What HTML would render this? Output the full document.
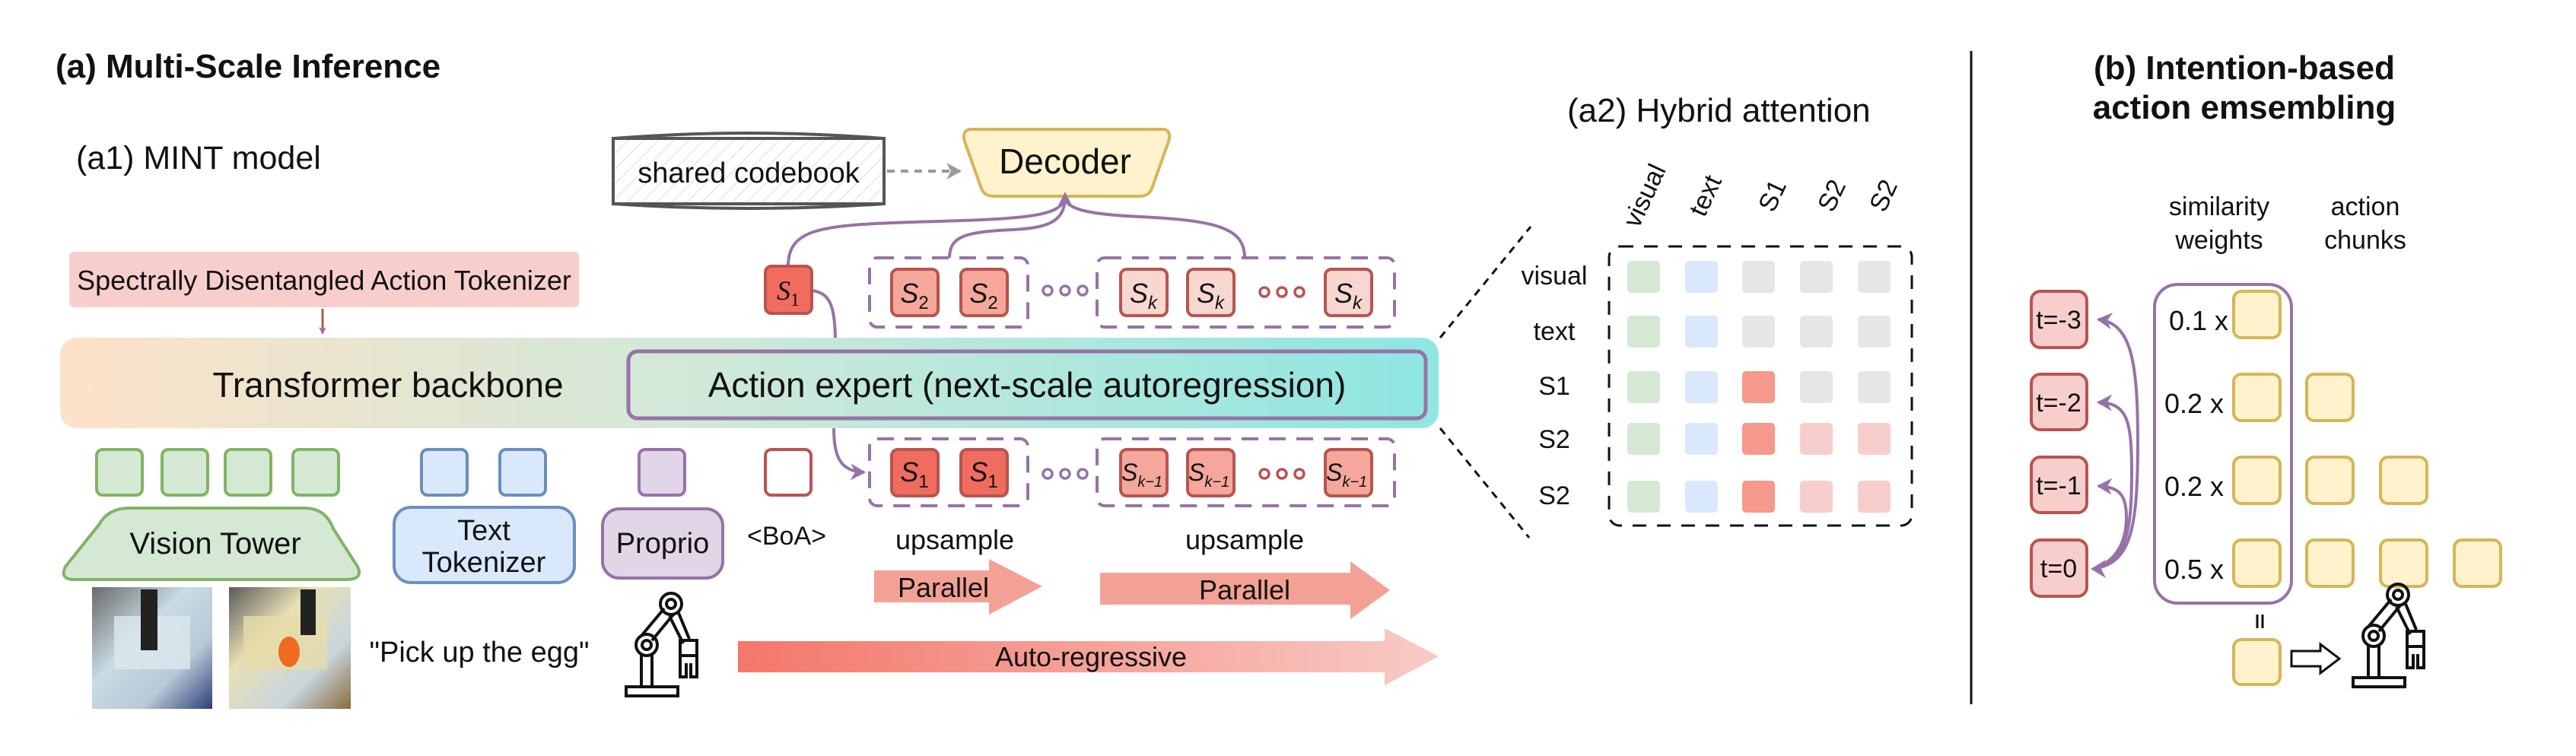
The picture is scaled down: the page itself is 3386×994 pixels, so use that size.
<!DOCTYPE html>
<html><head><meta charset="utf-8"><style>
html,body{margin:0;padding:0;background:#fff;}
svg{display:block;}
text{font-family:"Liberation Sans Narrow","Liberation Sans",sans-serif;fill:#111;}
.it{font-family:"Liberation Serif",serif;font-style:italic;}
</style></head><body>
<svg width="3386" height="994" viewBox="0 0 3386 994" xmlns="http://www.w3.org/2000/svg">
<defs>
<linearGradient id="bb" x1="0" x2="1" y1="0" y2="0"><stop offset="0" stop-color="#fde2c8"/><stop offset="0.45" stop-color="#d2e8d8"/><stop offset="1" stop-color="#8ee6e2"/></linearGradient>
<linearGradient id="ar" x1="0" x2="1"><stop offset="0" stop-color="#f4776a"/><stop offset="1" stop-color="#f8cbc6"/></linearGradient>
<linearGradient id="ph1" x1="0" x2="1" y1="0" y2="1"><stop offset="0" stop-color="#6a6a6a"/><stop offset="0.4" stop-color="#c9dbe4"/><stop offset="0.7" stop-color="#b8c8d6"/><stop offset="1" stop-color="#2d3e7a"/></linearGradient>
<linearGradient id="ph2" x1="0" x2="1" y1="0" y2="1"><stop offset="0" stop-color="#5b5b5b"/><stop offset="0.35" stop-color="#e8e0b4"/><stop offset="0.7" stop-color="#c9d6de"/><stop offset="1" stop-color="#8a6a3e"/></linearGradient>
<marker id="pa" markerWidth="10" markerHeight="10" refX="8" refY="5" orient="auto" markerUnits="userSpaceOnUse"><path d="M0,0 L10,5 L0,10 L3,5z" fill="#9673a6"/></marker>
<marker id="pb" markerWidth="22" markerHeight="22" refX="18" refY="11" orient="auto" markerUnits="userSpaceOnUse"><path d="M0,0 L20,11 L0,22 L6,11z" fill="#9673a6"/></marker>
<marker id="ga" markerWidth="22" markerHeight="22" refX="18" refY="11" orient="auto" markerUnits="userSpaceOnUse"><path d="M0,0 L20,11 L0,22 L6,11z" fill="#999"/></marker>
<pattern id="hatch" width="14" height="14" patternUnits="userSpaceOnUse" patternTransform="rotate(45)"><line x1="0" y1="0" x2="0" y2="14" stroke="#ddd" stroke-width="2"/></pattern>
</defs>

<text x="73" y="102" font-size="44" font-weight="bold">(a) Multi-Scale Inference</text>
<text x="100" y="222" font-size="43">(a1) MINT model</text>

<rect x="806" y="182" width="356" height="86" fill="url(#hatch)" stroke="#555" stroke-width="4"/>
<path d="M806,182 Q984,168 1162,182 M806,268 Q984,280 1162,268" fill="none" stroke="#555" stroke-width="4"/>
<text x="984" y="240" font-size="38" text-anchor="middle" fill="#333">shared codebook</text>
<line x1="1166" y1="225" x2="1262" y2="225" stroke="#999" stroke-width="4" stroke-dasharray="10,8" marker-end="url(#ga)"/>

<path d="M1275,170 L1530,170 Q1540,172 1536,186 L1514,248 Q1510,258 1498,258 L1306,258 Q1294,258 1290,248 L1268,186 Q1264,172 1275,170z" fill="#fff2cc" stroke="#d6b656" stroke-width="4"/>
<text x="1400" y="228" font-size="46" text-anchor="middle">Decoder</text>

<rect x="91" y="331" width="670" height="73" rx="6" fill="#f8cecc"/>
<text x="426" y="381" font-size="36" text-anchor="middle">Spectrally Disentangled Action Tokenizer</text>
<line x1="424" y1="406" x2="424" y2="438" stroke="#b85450" stroke-width="3" marker-end="url(#pa)"/>

<g fill="none" stroke="#9673a6" stroke-width="4">
<path d="M1036,350 C1036,300 1080,296 1200,292 C1350,288 1390,285 1400,262"/>
<path d="M1248,339 C1248,310 1270,305 1330,302 C1380,300 1398,290 1400,262"/>
<path d="M1636,339 C1636,300 1600,290 1500,285 C1430,282 1405,275 1400,262"/>
<path d="M1067,382 C1090,385 1098,400 1098,450"/>
<path d="M1096,563 C1096,600 1104,620 1136,621" marker-end="url(#pb)"/>
</g>
<path d="M1390,272 L1400,252 L1410,272 L1400,266z" fill="#9673a6"/>

<rect x="79" y="444" width="1812" height="119" rx="22" fill="url(#bb)"/>
<rect x="826" y="462" width="1048" height="88" rx="12" fill="none" stroke="#9673a6" stroke-width="5"/>
<text x="510" y="522" font-size="46" text-anchor="middle">Transformer backbone</text>
<text x="1350" y="522" font-size="46" text-anchor="middle">Action expert (next-scale autoregression)</text>

<rect x="1006" y="350" width="61" height="62" rx="8" fill="#f06c5e" stroke="#b85450" stroke-width="4"/>
<text x="1036" y="394" font-size="36" class="it" text-anchor="middle">S<tspan font-size="24" dy="8" font-style="normal">1</tspan></text>
<rect x="1143" y="339" width="208" height="91" rx="10" fill="none" stroke="#9673a6" stroke-width="4" stroke-dasharray="22,14"/>
<rect x="1442" y="339" width="391" height="91" rx="10" fill="none" stroke="#9673a6" stroke-width="4" stroke-dasharray="22,14"/>
<g stroke="#b85450" stroke-width="4">
<rect x="1172" y="354" width="61" height="61" rx="8" fill="#f4a79a"/>
<rect x="1263" y="354" width="61" height="61" rx="8" fill="#f4a79a"/>
<rect x="1473" y="354" width="61" height="61" rx="8" fill="#f8d7d0"/>
<rect x="1561" y="354" width="61" height="61" rx="8" fill="#f8d7d0"/>
<rect x="1742" y="354" width="61" height="61" rx="8" fill="#f8d7d0"/>
</g>
<g font-size="36" class="it" text-anchor="middle">
<text x="1202" y="398">S<tspan font-size="24" dy="8" font-style="normal">2</tspan></text>
<text x="1293" y="398">S<tspan font-size="24" dy="8" font-style="normal">2</tspan></text>
<text x="1503" y="398">S<tspan font-size="24" dy="8">k</tspan></text>
<text x="1591" y="398">S<tspan font-size="24" dy="8">k</tspan></text>
<text x="1772" y="398">S<tspan font-size="24" dy="8">k</tspan></text>
</g>
<g fill="none" stroke-width="3.5">
<g stroke="#9673a6"><circle cx="1377" cy="382" r="6"/><circle cx="1400" cy="382" r="6"/><circle cx="1423" cy="382" r="6"/></g>
<g stroke="#b85450"><circle cx="1662" cy="384" r="6"/><circle cx="1685" cy="384" r="6"/><circle cx="1708" cy="384" r="6"/></g>
</g>

<rect x="1143" y="577" width="208" height="88" rx="10" fill="none" stroke="#9673a6" stroke-width="4" stroke-dasharray="22,14"/>
<rect x="1442" y="577" width="391" height="88" rx="10" fill="none" stroke="#9673a6" stroke-width="4" stroke-dasharray="22,14"/>
<g stroke="#b85450" stroke-width="4">
<rect x="1172" y="591" width="61" height="61" rx="8" fill="#f06c5e"/>
<rect x="1263" y="591" width="61" height="61" rx="8" fill="#f06c5e"/>
<rect x="1473" y="591" width="61" height="61" rx="8" fill="#f4a79a"/>
<rect x="1561" y="591" width="61" height="61" rx="8" fill="#f4a79a"/>
<rect x="1742" y="591" width="61" height="61" rx="8" fill="#f4a79a"/>
</g>
<g font-size="36" class="it" text-anchor="middle">
<text x="1202" y="633">S<tspan font-size="24" dy="8" font-style="normal">1</tspan></text>
<text x="1293" y="633">S<tspan font-size="24" dy="8" font-style="normal">1</tspan></text>
</g>
<g font-size="32" class="it">
<text x="1474" y="632">S<tspan font-size="20" dy="8">k−1</tspan></text>
<text x="1562" y="632">S<tspan font-size="20" dy="8">k−1</tspan></text>
<text x="1743" y="632">S<tspan font-size="20" dy="8">k−1</tspan></text>
</g>
<g fill="none" stroke-width="3.5">
<g stroke="#9673a6"><circle cx="1377" cy="623" r="6"/><circle cx="1400" cy="623" r="6"/><circle cx="1423" cy="623" r="6"/></g>
<g stroke="#b85450"><circle cx="1662" cy="623" r="6"/><circle cx="1685" cy="623" r="6"/><circle cx="1708" cy="623" r="6"/></g>
</g>

<g stroke-width="4">
<rect x="127" y="591" width="60" height="60" rx="8" fill="#d5e8d4" stroke="#82b366"/>
<rect x="213" y="591" width="60" height="60" rx="8" fill="#d5e8d4" stroke="#82b366"/>
<rect x="296" y="591" width="60" height="60" rx="8" fill="#d5e8d4" stroke="#82b366"/>
<rect x="385" y="591" width="60" height="60" rx="8" fill="#d5e8d4" stroke="#82b366"/>
<rect x="554" y="591" width="60" height="60" rx="8" fill="#dae8fc" stroke="#6c8ebf"/>
<rect x="657" y="591" width="60" height="60" rx="8" fill="#dae8fc" stroke="#6c8ebf"/>
<rect x="840" y="591" width="60" height="60" rx="8" fill="#e1d5e7" stroke="#9673a6"/>
<rect x="1006" y="591" width="60" height="60" rx="8" fill="#fff" stroke="#b85450"/>
</g>
<path d="M170,668 L400,668 Q428,668 438,695 L470,745 Q478,762 455,762 L98,762 Q78,762 86,745 L130,690 Q142,668 170,668z" fill="#d5e8d4" stroke="#82b366" stroke-width="4"/>
<text x="283" y="728" font-size="40" text-anchor="middle">Vision Tower</text>
<rect x="518" y="667" width="237" height="99" rx="22" fill="#dae8fc" stroke="#6c8ebf" stroke-width="4"/>
<text x="636" y="710" font-size="38" text-anchor="middle">Text</text>
<text x="636" y="752" font-size="38" text-anchor="middle">Tokenizer</text>
<rect x="792" y="669" width="158" height="91" rx="22" fill="#e1d5e7" stroke="#9673a6" stroke-width="4"/>
<text x="871" y="727" font-size="38" text-anchor="middle">Proprio</text>
<text x="1034" y="716" font-size="34" text-anchor="middle">&lt;BoA&gt;</text>
<text x="1255" y="722" font-size="36" text-anchor="middle">upsample</text>
<text x="1636" y="722" font-size="36" text-anchor="middle">upsample</text>

<path d="M1149,750 L1300,750 L1300,735 L1370,771 L1300,808 L1300,792 L1149,792z" fill="#f4a195"/>
<text x="1240" y="785" font-size="36" text-anchor="middle">Parallel</text>
<path d="M1446,753 L1775,753 L1775,738 L1827,776 L1775,814 L1775,795 L1446,795z" fill="#f4a195"/>
<text x="1636" y="788" font-size="36" text-anchor="middle">Parallel</text>
<path d="M970,843 L1820,843 L1820,826 L1891,863 L1820,901 L1820,884 L970,884z" fill="url(#ar)"/>
<text x="1434" y="876" font-size="36" text-anchor="middle">Auto-regressive</text>

<rect x="121" y="772" width="158" height="160" fill="url(#ph1)"/>
<rect x="150" y="810" width="100" height="70" fill="#dbe8ee" opacity="0.8"/>
<rect x="185" y="775" width="22" height="80" fill="#222"/>
<rect x="301" y="772" width="160" height="160" fill="url(#ph2)"/>
<rect x="320" y="810" width="110" height="70" fill="#e6dca8" opacity="0.8"/>
<rect x="395" y="775" width="20" height="60" fill="#222"/>
<ellipse cx="380" cy="857" rx="14" ry="20" fill="#f06a20"/>
<text x="630" y="870" font-size="38" text-anchor="middle">"Pick up the egg"</text>

<g fill="none" stroke="#111" stroke-width="4">
<rect x="823" y="903" width="68" height="12"/>
<line x1="843" y1="903" x2="843" y2="860"/><line x1="857" y1="903" x2="857" y2="860"/>
<circle cx="850" cy="848" r="14"/><circle cx="850" cy="848" r="6"/>
<line x1="843" y1="836" x2="873" y2="800"/><line x1="857" y1="842" x2="885" y2="808"/>
<circle cx="882" cy="794" r="14"/><circle cx="882" cy="794" r="6"/>
<line x1="892" y1="806" x2="906" y2="840"/><line x1="880" y1="810" x2="898" y2="846"/>
<rect x="894" y="842" width="22" height="20"/>
<path d="M894,862 L894,890 L902,890 L902,872 M916,862 L916,890 L908,890 L908,872"/>
</g>

<g stroke="#111" stroke-width="3" stroke-dasharray="10,8" fill="none">
<line x1="1893" y1="444" x2="2012" y2="298"/>
<line x1="1893" y1="563" x2="2010" y2="707"/>
</g>

<text x="2060" y="160" font-size="44">(a2) Hybrid attention</text>
<g font-size="34" text-anchor="middle">
<text transform="translate(2172,262) rotate(-65)">visual</text>
<text transform="translate(2252,262) rotate(-65)">text</text>
<text transform="translate(2340,262) rotate(-65)">S1</text>
<text transform="translate(2418,262) rotate(-65)">S2</text>
<text transform="translate(2486,262) rotate(-65)">S2</text>
</g>
<rect x="2115" y="324" width="398" height="367" rx="14" fill="none" stroke="#111" stroke-width="3" stroke-dasharray="18,14"/>
<g font-size="34" text-anchor="middle">
<text x="2043" y="374">visual</text>
<text x="2043" y="447">text</text>
<text x="2043" y="519">S1</text>
<text x="2043" y="589">S2</text>
<text x="2043" y="663">S2</text>
</g>
<g>
<rect x="2139" y="343" width="43" height="42" rx="5" fill="#d5e8d4"/><rect x="2215" y="343" width="43" height="42" rx="5" fill="#dae8fc"/><rect x="2290" y="343" width="43" height="42" rx="5" fill="#e6e6e6"/><rect x="2366" y="343" width="43" height="42" rx="5" fill="#e6e6e6"/><rect x="2442" y="343" width="43" height="42" rx="5" fill="#e6e6e6"/>
<rect x="2139" y="415" width="43" height="42" rx="5" fill="#d5e8d4"/><rect x="2215" y="415" width="43" height="42" rx="5" fill="#dae8fc"/><rect x="2290" y="415" width="43" height="42" rx="5" fill="#e6e6e6"/><rect x="2366" y="415" width="43" height="42" rx="5" fill="#e6e6e6"/><rect x="2442" y="415" width="43" height="42" rx="5" fill="#e6e6e6"/>
<rect x="2139" y="488" width="43" height="42" rx="5" fill="#d5e8d4"/><rect x="2215" y="488" width="43" height="42" rx="5" fill="#dae8fc"/><rect x="2290" y="488" width="43" height="42" rx="5" fill="#f4998b"/><rect x="2366" y="488" width="43" height="42" rx="5" fill="#e6e6e6"/><rect x="2442" y="488" width="43" height="42" rx="5" fill="#e6e6e6"/>
<rect x="2139" y="556" width="43" height="42" rx="5" fill="#d5e8d4"/><rect x="2215" y="556" width="43" height="42" rx="5" fill="#dae8fc"/><rect x="2290" y="556" width="43" height="42" rx="5" fill="#f4998b"/><rect x="2366" y="556" width="43" height="42" rx="5" fill="#f8cecc"/><rect x="2442" y="556" width="43" height="42" rx="5" fill="#f8cecc"/>
<rect x="2139" y="632" width="43" height="42" rx="5" fill="#d5e8d4"/><rect x="2215" y="632" width="43" height="42" rx="5" fill="#dae8fc"/><rect x="2290" y="632" width="43" height="42" rx="5" fill="#f4998b"/><rect x="2366" y="632" width="43" height="42" rx="5" fill="#f8cecc"/><rect x="2442" y="632" width="43" height="42" rx="5" fill="#f8cecc"/>
</g>

<line x1="2591" y1="67" x2="2591" y2="926" stroke="#111" stroke-width="3"/>

<text x="2950" y="104" font-size="44" font-weight="bold" text-anchor="middle">(b) Intention-based</text>
<text x="2950" y="156" font-size="44" font-weight="bold" text-anchor="middle">action emsembling</text>
<g font-size="34" text-anchor="middle">
<text x="2917" y="283">similarity</text><text x="2917" y="327">weights</text>
<text x="3109" y="283">action</text><text x="3109" y="327">chunks</text>
</g>
<g stroke="#b85450" stroke-width="4" fill="#f8cecc">
<rect x="2670" y="383" width="73" height="74" rx="12"/>
<rect x="2670" y="492" width="73" height="73" rx="12"/>
<rect x="2670" y="601" width="73" height="73" rx="12"/>
<rect x="2670" y="710" width="73" height="74" rx="12"/>
</g>
<g font-size="34" text-anchor="middle">
<text x="2706" y="432">t=-3</text><text x="2706" y="541">t=-2</text><text x="2706" y="650">t=-1</text><text x="2706" y="759">t=0</text>
</g>
<g fill="none" stroke="#9673a6" stroke-width="4">
<path d="M2752,748 C2800,740 2810,700 2810,580 C2810,470 2800,425 2758,420" marker-end="url(#pb)"/>
<path d="M2752,748 C2795,738 2802,700 2802,620 C2802,550 2795,530 2758,529" marker-end="url(#pb)"/>
<path d="M2752,748 C2790,735 2795,700 2795,680 C2795,650 2785,640 2758,639" marker-end="url(#pb)"/>
</g>
<path d="M2748,748 L2768,736 L2762,748 L2768,760z" fill="#9673a6"/>
<rect x="2832" y="374" width="180" height="419" rx="30" fill="none" stroke="#9673a6" stroke-width="4"/>
<g font-size="36" text-anchor="middle">
<text x="2890" y="434" fill="#9673a6">0.1 x</text><text x="2884" y="543" fill="#9673a6">0.2 x</text><text x="2884" y="652" fill="#9673a6">0.2 x</text><text x="2884" y="761" fill="#9673a6">0.5 x</text>
</g>
<g fill="#fff2cc" stroke="#d6b656" stroke-width="4">
<rect x="2936" y="383" width="61" height="61" rx="10"/>
<rect x="2936" y="492" width="61" height="61" rx="10"/><rect x="3032" y="492" width="61" height="61" rx="10"/>
<rect x="2936" y="601" width="61" height="61" rx="10"/><rect x="3032" y="601" width="61" height="61" rx="10"/><rect x="3129" y="601" width="61" height="61" rx="10"/>
<rect x="2936" y="710" width="61" height="61" rx="10"/><rect x="3032" y="710" width="61" height="61" rx="10"/><rect x="3129" y="710" width="61" height="61" rx="10"/><rect x="3226" y="710" width="61" height="61" rx="10"/>
<rect x="2936" y="841" width="61" height="59" rx="10"/>
</g>
<g stroke="#111" stroke-width="3"><line x1="2967" y1="808" x2="2967" y2="826"/><line x1="2974" y1="808" x2="2974" y2="826"/></g>
<path d="M3012,856 L3050,856 L3050,847 L3075,866 L3050,885 L3050,876 L3012,876z" fill="none" stroke="#111" stroke-width="3"/>
<g fill="none" stroke="#111" stroke-width="4" transform="translate(2270,-12)">
<rect x="823" y="903" width="68" height="12"/>
<line x1="843" y1="903" x2="843" y2="860"/><line x1="857" y1="903" x2="857" y2="860"/>
<circle cx="850" cy="848" r="14"/><circle cx="850" cy="848" r="6"/>
<line x1="843" y1="836" x2="873" y2="800"/><line x1="857" y1="842" x2="885" y2="808"/>
<circle cx="882" cy="794" r="14"/><circle cx="882" cy="794" r="6"/>
<line x1="892" y1="806" x2="906" y2="840"/><line x1="880" y1="810" x2="898" y2="846"/>
<rect x="894" y="842" width="22" height="20"/>
<path d="M894,862 L894,890 L902,890 L902,872 M916,862 L916,890 L908,890 L908,872"/>
</g>
</svg>
</body></html>
